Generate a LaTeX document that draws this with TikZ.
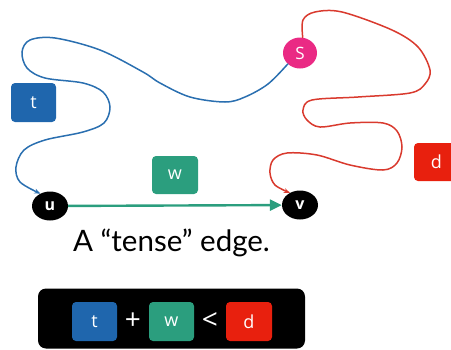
\documentclass[tikz,border=0pt]{standalone}
\usepackage{fontspec}
\setmainfont{Lato}
\newfontfamily\labelfont{Open Sans}
\usetikzlibrary{arrows.meta,shapes.geometric}

\definecolor{tblue}{HTML}{1F66AD}
\definecolor{wteal}{HTML}{2B9E7E}
\definecolor{dred}{HTML}{E8200E}
\definecolor{smag}{HTML}{EA2A84}
\definecolor{bluepath}{HTML}{2A6FB0}
\definecolor{redpath}{HTML}{D93A2E}

\begin{document}
\begin{tikzpicture}[x=1pt,y=-1pt,
  valbox/.style={rounded corners=4pt, minimum width=45pt, minimum height=39pt,
    inner sep=0pt, text=white, font=\labelfont\fontsize{18}{20}\selectfont},
  vertex/.style={ellipse, fill=black, minimum width=36pt, minimum height=29pt,
    inner sep=0pt, text=white, font=\labelfont\bfseries\fontsize{16}{18}\selectfont},
  wiggle/.style={line width=1.5pt, line cap=round,
    -{Stealth[length=6pt,width=5pt]}},
  symb/.style={text=white, font=\labelfont\fontsize{28}{30}\selectfont}
]
\useasboundingbox (0,0) rectangle (451,349);

% vertices
\node[vertex] (u) at (50,206) {u};
\node[vertex] (v) at (300,205) {v};
\node[ellipse, fill=smag, minimum width=34pt, minimum height=31pt, inner sep=0pt,
  text=white, font=\labelfont\fontsize{17}{19}\selectfont] (S) at (300,53) {S};

% weight labels
\node[valbox, fill=tblue] (tlab) at (33.5,102.5) {t};
\node[valbox, fill=wteal, minimum width=46pt, minimum height=38pt] (wlab) at (175,175) {w};
\node[valbox, fill=dred, minimum height=38pt] (dlab) at (436.5,162) {d};

% tense edge
\draw[wteal, line width=2.4pt, -{Triangle[length=12pt,width=11pt]}] (u) -- (v);

% shortest path S ~> u
\draw[bluepath, wiggle] plot[smooth, tension=0.55] coordinates {
  (S.222) (268,84) (245,97) (225,102) (190,97) (160,83) (143,72) (100,50)
  (55,38) (30,40) (22,52) (27,68) (45,78) (83,83) (103,92) (110,107)
  (104,123) (83,132) (45,140) (24,150) (16,167) (20,182) (u.128)};

% shortest path S ~> v
\draw[redpath, wiggle] plot[smooth, tension=0.55] coordinates {
  (S.80) (303,20) (315,12) (342,12) (392,30) (418,47) (430,70) (425,84)
  (410,93) (358,97) (312,100) (303,110) (307,120) (320,127) (350,123)
  (383,123) (397,131) (402,147) (397,163) (383,170) (350,165) (317,155)
  (287,153) (273,160) (270,173) (275,185) (v.130)};

% caption
\node[font=\fontsize{29.5}{32}\selectfont] (cap) at (171.5,243) {A “tense” edge.};

% inequality panel
\node[fill=black, rounded corners=8pt, minimum width=267pt, minimum height=60pt,
  inner sep=0pt] (panel) at (171.5,318.5) {};
\node[valbox, fill=tblue] (pt) at (94.5,321.5) {t};
\node[symb] (plus) at (133,321) {+};
\node[valbox, fill=wteal] (pw) at (171.5,321.5) {w};
\node[symb] (less) at (210,321) {<};
\node[valbox, fill=dred, minimum width=46pt] (pd) at (249,321.5) {d};
\end{tikzpicture}
\end{document}
